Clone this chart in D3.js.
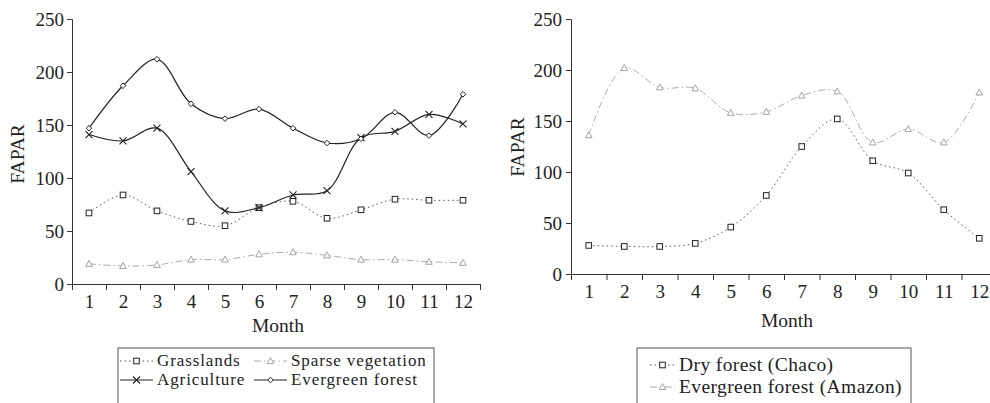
<!DOCTYPE html>
<html><head><meta charset="utf-8">
<script src="https://cdn.jsdelivr.net/npm/d3@7"></script>
<style>body{margin:0;background:#fff}svg{display:block}text{font-family:"Liberation Serif","DejaVu Serif",serif;fill:#222}</style>
</head><body><svg id="c" width="990" height="403"></svg>
<script>
const months = [1,2,3,4,5,6,7,8,9,10,11,12];
const yTicks = [0,50,100,150,200,250];
const grasslands = [67,84,69,59,55,72,78,62,70,80,79,79];
const sparseVegetation = [19,17,18,23,23,28,30,27,23,23,21,20];
const agriculture = [141,135,147,106,69,72,84,88,138,144,160,151];
const evergreenForest = [147,187,212,170,156,165,147,133,137,162,140,179];
const dryForestChaco = [28,27,27,30,46,77,125,152,111,99,63,35];
const evergreenAmazon = [136,202,183,182,158,159,175,179,129,142,129,178];
const leftNames = ["Grasslands","Sparse vegetation","Agriculture","Evergreen forest"];
const rightNames = ["Dry forest (Chaco)","Evergreen forest (Amazon)"];

const styles = {
  square:{stroke:"#555",dash:"1.5,3",marker:"square",mcol:"#222",width:1},
  triangle:{stroke:"#aaa",dash:"7,3,1.5,3",marker:"triangle",mcol:"#999",width:1},
  cross:{stroke:"#222",dash:null,marker:"cross",mcol:"#222",width:1.2},
  diamond:{stroke:"#222",dash:null,marker:"diamond",mcol:"#222",width:1.2}
};

const svg = d3.select("#c");

function marker(g, type, cx, cy, col){
  if(type==="square") g.append("rect").attr("x",cx-2.8).attr("y",cy-2.8).attr("width",5.6).attr("height",5.6).attr("fill","#fff").attr("stroke",col).attr("stroke-width",1);
  else if(type==="triangle") g.append("path").attr("d",`M${cx},${cy-3.5}L${cx+3.3},${cy+2.5}L${cx-3.3},${cy+2.5}Z`).attr("fill","#fff").attr("stroke",col).attr("stroke-width",0.9);
  else if(type==="cross") g.append("path").attr("d",`M${cx-3.5},${cy-3.5}L${cx+3.5},${cy+3.5}M${cx-3.5},${cy+3.5}L${cx+3.5},${cy-3.5}`).attr("stroke",col).attr("stroke-width",1.1).attr("fill","none");
  else if(type==="diamond") g.append("path").attr("d",`M${cx},${cy-2.8}L${cx+2.8},${cy}L${cx},${cy+2.8}L${cx-2.8},${cy}Z`).attr("fill","#fff").attr("stroke",col).attr("stroke-width",1);
}

function panel(cfg){
  const g = svg.append("g");
  const x = d3.scaleLinear().domain([0.5,12.5]).range([cfg.x0,cfg.x1]);
  const y = d3.scaleLinear().domain([0,250]).range([cfg.y0,cfg.y1]);
  cfg.series.forEach(s=>{
    const st = styles[s.style];
    const line = d3.line().x((d,i)=>x(months[i])).y(d=>y(d)).curve(d3.curveCatmullRom.alpha(0.5));
    g.append("path").attr("d",line(s.values)).attr("fill","none").attr("stroke",st.stroke).attr("stroke-width",st.width).attr("stroke-dasharray",st.dash);
    s.values.forEach((v,i)=>marker(g,st.marker,x(months[i]),y(v),st.mcol));
  });
  const ya = g.append("g").attr("transform",`translate(${cfg.x0},0)`).call(d3.axisLeft(y).tickValues(yTicks).tickSize(5).tickPadding(cfg.ypad));
  const xb = d3.range(0.5,13,1);
  const xa = g.append("g").attr("transform",`translate(0,${cfg.y0})`).call(d3.axisBottom(x).tickValues(xb).tickFormat("").tickSize(6).tickSizeOuter(0));
  const xl = g.append("g").attr("transform",`translate(0,${cfg.y0})`).call(d3.axisBottom(x).tickValues(months).tickSize(0).tickPadding(11));
  xl.select(".domain").remove();
  [ya,xa,xl].forEach(a=>{a.selectAll("text").style("font-size","19px").attr("fill","#222").style("font-family","Liberation Serif");a.selectAll("line,path").attr("stroke","#333");});
  g.append("text").attr("x",cfg.monthX).attr("y",cfg.monthY).attr("text-anchor","middle").style("font-size","19.5px").text("Month");
  g.append("text").attr("transform",`translate(${cfg.fx},${cfg.fy}) rotate(-90)`).attr("text-anchor","middle").style("font-size","19.5px").text("FAPAR");
  const L = cfg.legend;
  g.append("rect").attr("x",L.x).attr("y",L.y).attr("width",L.w).attr("height",L.h).attr("fill","#fff").attr("stroke","#555").attr("stroke-width",1);
  cfg.series.forEach((s,i)=>{
    const st = styles[s.style];
    const p = L.items[i];
    g.append("line").attr("x1",p[0]).attr("x2",p[0]+L.sw).attr("y1",p[1]).attr("y2",p[1]).attr("stroke",st.stroke).attr("stroke-width",st.width).attr("stroke-dasharray",st.dash);
    marker(g,st.marker,p[0]+L.sw/2,p[1],st.mcol);
    g.append("text").attr("x",p[0]+L.sw+4).attr("y",p[1]+L.fs*0.3).style("font-size",L.fs+"px").style("letter-spacing",L.ls+"px").text(s.name);
  });
}

panel({x0:72,x1:480,y0:284,y1:19,ypad:3,monthX:278,monthY:332,fx:24,fy:154,
  series:[{name:leftNames[0],values:grasslands,style:"square"},{name:leftNames[1],values:sparseVegetation,style:"triangle"},{name:leftNames[2],values:agriculture,style:"cross"},{name:leftNames[3],values:evergreenForest,style:"diamond"}],
  legend:{x:118,y:348,w:316,h:60,sw:33,fs:17,ls:0.9,items:[[120,361],[254,361],[120,380],[254,380]]}});

panel({x0:571,x1:997,y0:274,y1:19,ypad:4,monthX:787,monthY:327,fx:524,fy:147,
  series:[{name:rightNames[0],values:dryForestChaco,style:"square"},{name:rightNames[1],values:evergreenAmazon,style:"triangle"}],
  legend:{x:637,y:348,w:274,h:60,sw:25,fs:19.5,ls:0.4,items:[[650,365],[650,387]]}});
</script></body></html>
